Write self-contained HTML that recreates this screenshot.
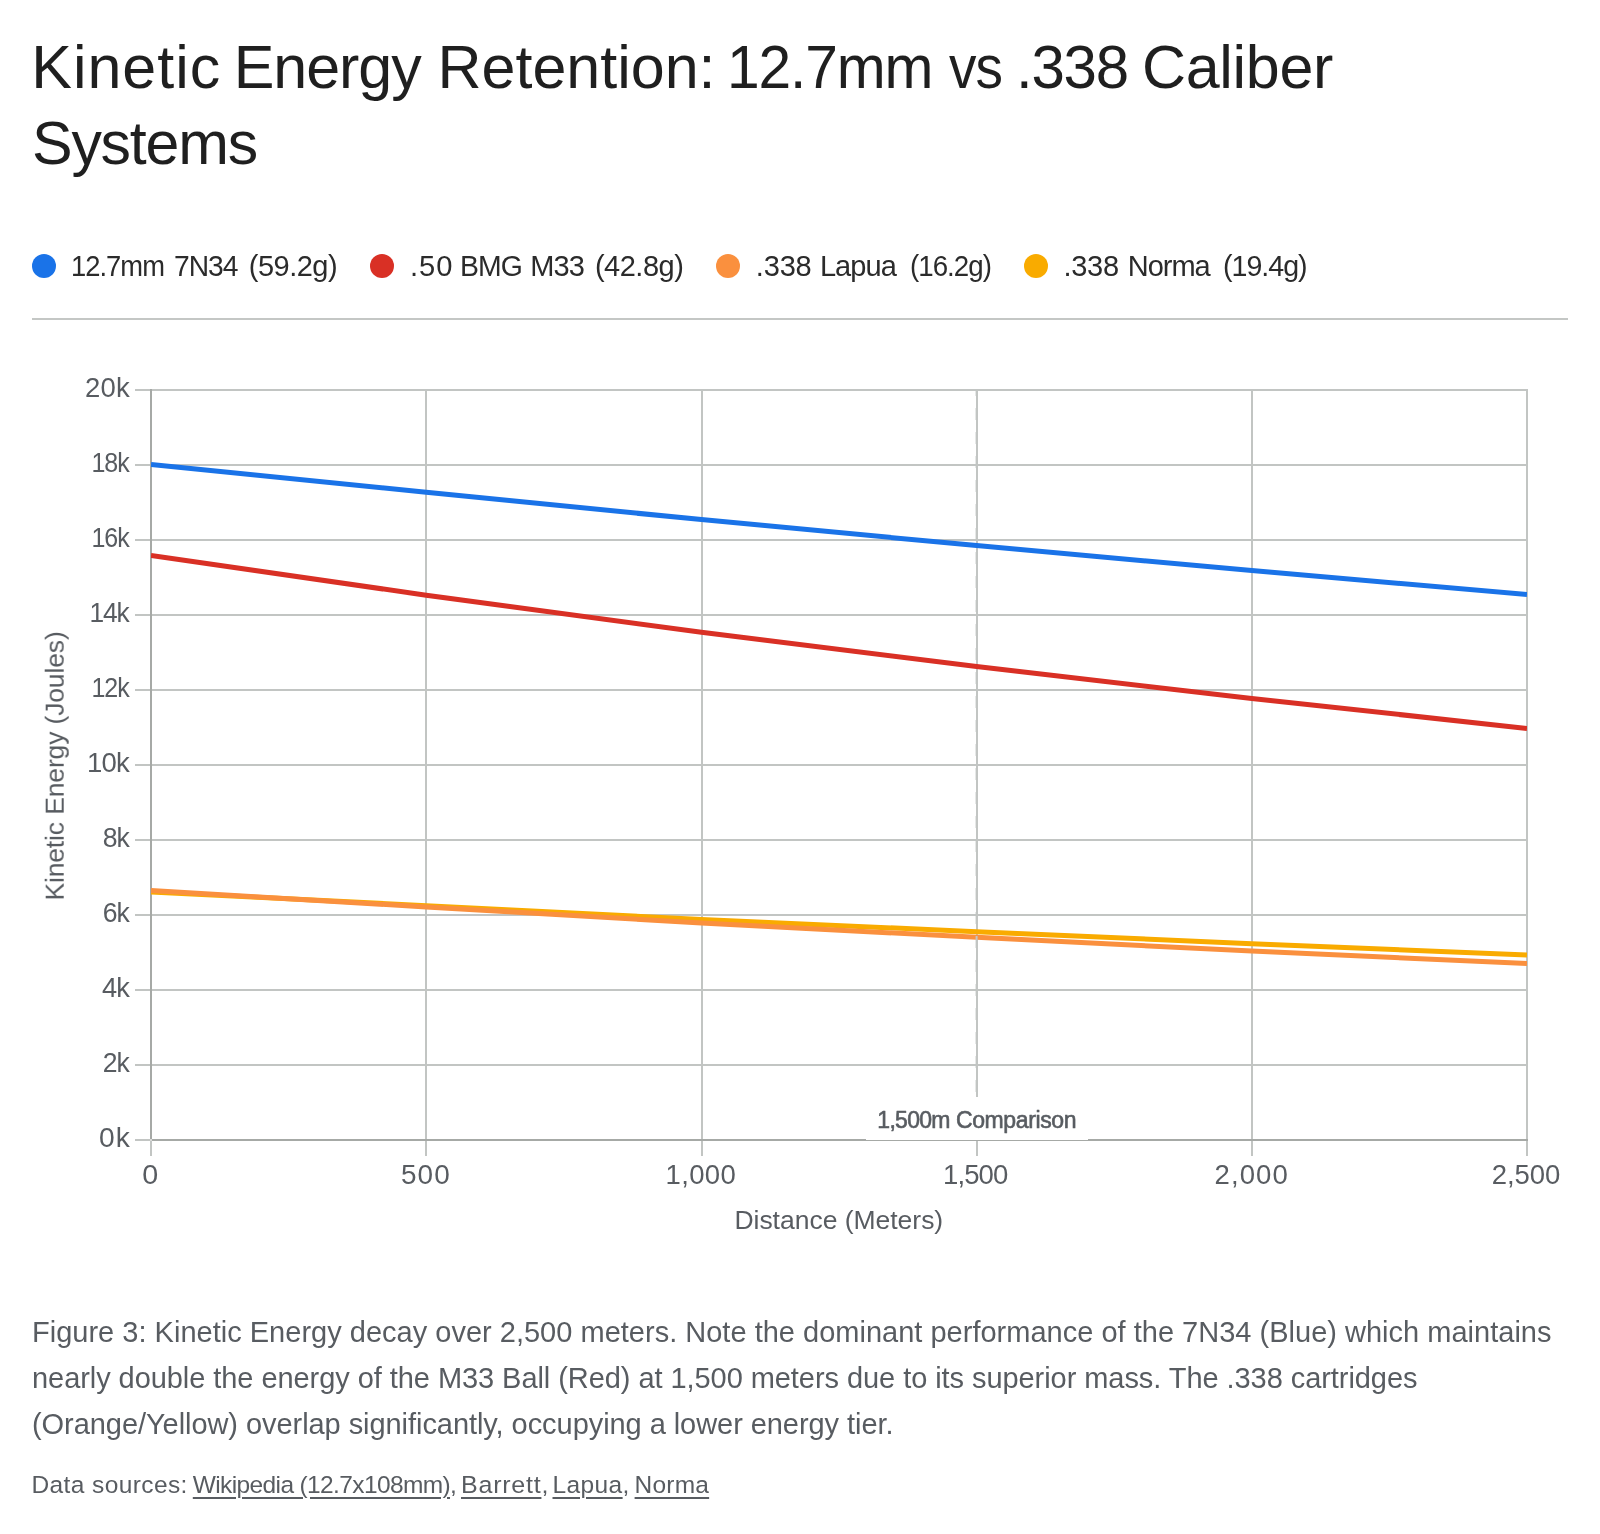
<!DOCTYPE html>
<html lang="en">
<head>
<meta charset="utf-8">
<title>Kinetic Energy Retention: 12.7mm vs .338 Caliber Systems</title>
<style>
  html, body { margin: 0; padding: 0; background: #ffffff; }
  body {
    width: 1600px; height: 1534px; position: relative; overflow: hidden;
    font-family: "Liberation Sans", sans-serif;
    color: #1f1f1f;
    -webkit-font-smoothing: antialiased;
  }
  .abs { position: absolute; white-space: nowrap; will-change: transform; }
  h1.title {
    margin: 0; font-weight: 400; font-size: 61px; line-height: 76px;
    color: #1f1f1f; left: 0; top: 29px; width: 1600px; height: 152px;
  }
  h1.title span { position: absolute; white-space: nowrap; transform-origin: 0 50%; }
  .legend { left: 0; top: 246px; width: 1600px; height: 40px; font-size: 29px; line-height: 40px; color: #2b2b2b; }
  .legend .dot { position: absolute; top: 8px; width: 24px; height: 24px; border-radius: 50%; }
  .legend .lbl { position: absolute; top: 0; white-space: nowrap; }
  .legend .lbl span { position: absolute; top: 0; white-space: nowrap; transform-origin: 0 50%; }
  .rule { left: 32px; top: 318px; width: 1536px; height: 2px; background: #c4c7c5; }
  .caption { left: 32px; top: 1309px; font-size: 29px; line-height: 46px; color: #585c61; margin: 0; }
  .caption span { display: block; }
  .sources { left: 0; top: 1467px; width: 1600px; height: 36px; font-size: 24.5px; line-height: 36px; color: #585c61; margin: 0; }
  .sources span { position: absolute; top: 0; white-space: nowrap; transform-origin: 0 50%; }
  .sources a { color: inherit; text-decoration: underline; text-decoration-thickness: 2px; text-underline-offset: 4px; }
  svg text { font-family: "Liberation Sans", sans-serif; }
</style>
</head>
<body>

<h1 class="abs title"><span style="left:31.25px;top:0px;letter-spacing:0.985px">Kinetic</span> <span style="left:233.75px;top:0px;letter-spacing:-1.065px">Energy</span> <span style="left:437.5px;top:0px;letter-spacing:-0.003px">Retention:</span> <span style="left:726.75px;top:0px;letter-spacing:-1.22px;transform:scaleX(0.963)">12.7mm</span> <span style="left:949.4px;top:0px;letter-spacing:-1.22px;transform:scaleX(0.9008)">vs</span> <span style="left:1015.68px;top:0px;letter-spacing:-1.22px;transform:scaleX(0.983)">.338</span> <span style="left:1142.0px;top:0px;letter-spacing:-0.305px">Caliber</span> <span style="left:32.0px;top:76px;letter-spacing:-1.22px;transform:scaleX(0.998)">Systems</span></h1>

<div class="abs legend"><span class="dot" style="left:32px;background:#1a73e8"></span><span class="lbl"><span style="left:70.87px;letter-spacing:-1.015px;transform:scaleX(0.9422)">12.7mm</span> <span style="left:173.78px;letter-spacing:-1.015px;transform:scaleX(0.9723)">7N34</span> <span style="left:248.75px;letter-spacing:-0.496px">(59.2g)</span></span>
  <span class="dot" style="left:370px;background:#d93025"></span><span class="lbl"><span style="left:409.59px;letter-spacing:1.015px;transform:scaleX(1.0047)">.50</span> <span style="left:460.29px;letter-spacing:-1.015px;transform:scaleX(0.9798)">BMG</span> <span style="left:530.2px;letter-spacing:-0.868px">M33</span> <span style="left:594.9px;letter-spacing:-0.488px">(42.8g)</span></span>
  <span class="dot" style="left:716px;background:#fa903e"></span><span class="lbl"><span style="left:755.75px;letter-spacing:-0.155px">.338</span> <span style="left:819.9px;letter-spacing:-0.903px">Lapua</span> <span style="left:909.95px;letter-spacing:-1.015px;transform:scaleX(0.9544)">(16.2g)</span></span>
  <span class="dot" style="left:1024px;background:#f9ab00"></span><span class="lbl"><span style="left:1063.6px;letter-spacing:-0.338px">.338</span> <span style="left:1127.7px;letter-spacing:-0.996px">Norma</span> <span style="left:1223.01px;letter-spacing:-1.015px;transform:scaleX(0.9863)">(19.4g)</span></span></div>

<div class="abs rule"></div>

<svg class="abs" id="chart" style="left:0;top:340px" width="1600" height="930" viewBox="0 340 1600 930">
  <g shape-rendering="crispEdges">
  <rect x="135" y="1139" width="15" height="2" fill="#c2c5c3"/>
  <rect x="152" y="1139" width="1376" height="2" fill="#a6a9a6"/>
  <rect x="135" y="1064" width="15" height="2" fill="#c2c5c3"/>
  <rect x="152" y="1064" width="1376" height="2" fill="#c2c5c3"/>
  <rect x="135" y="989" width="15" height="2" fill="#c2c5c3"/>
  <rect x="152" y="989" width="1376" height="2" fill="#c2c5c3"/>
  <rect x="135" y="914" width="15" height="2" fill="#c2c5c3"/>
  <rect x="152" y="914" width="1376" height="2" fill="#c2c5c3"/>
  <rect x="135" y="839" width="15" height="2" fill="#c2c5c3"/>
  <rect x="152" y="839" width="1376" height="2" fill="#c2c5c3"/>
  <rect x="135" y="764" width="15" height="2" fill="#c2c5c3"/>
  <rect x="152" y="764" width="1376" height="2" fill="#c2c5c3"/>
  <rect x="135" y="689" width="15" height="2" fill="#c2c5c3"/>
  <rect x="152" y="689" width="1376" height="2" fill="#c2c5c3"/>
  <rect x="135" y="614" width="15" height="2" fill="#c2c5c3"/>
  <rect x="152" y="614" width="1376" height="2" fill="#c2c5c3"/>
  <rect x="135" y="539" width="15" height="2" fill="#c2c5c3"/>
  <rect x="152" y="539" width="1376" height="2" fill="#c2c5c3"/>
  <rect x="135" y="464" width="15" height="2" fill="#c2c5c3"/>
  <rect x="152" y="464" width="1376" height="2" fill="#c2c5c3"/>
  <rect x="135" y="389" width="15" height="2" fill="#c2c5c3"/>
  <rect x="152" y="389" width="1376" height="2" fill="#c2c5c3"/>
  <rect x="150" y="389" width="2" height="750" fill="#a6a9a6"/>
  <rect x="150" y="1141" width="2" height="15" fill="#c2c5c3"/>
  <rect x="425" y="389" width="2" height="750" fill="#c2c5c3"/>
  <rect x="425" y="1141" width="2" height="15" fill="#c2c5c3"/>
  <rect x="701" y="389" width="2" height="750" fill="#c2c5c3"/>
  <rect x="701" y="1141" width="2" height="15" fill="#c2c5c3"/>
  <rect x="976" y="389" width="2" height="750" fill="#c2c5c3"/>
  <rect x="976" y="1141" width="2" height="15" fill="#c2c5c3"/>
  <rect x="1251" y="389" width="2" height="750" fill="#c2c5c3"/>
  <rect x="1251" y="1141" width="2" height="15" fill="#c2c5c3"/>
  <rect x="1526" y="389" width="2" height="750" fill="#c2c5c3"/>
  <rect x="1526" y="1141" width="2" height="15" fill="#c2c5c3"/>
  <rect x="150" y="1139" width="2" height="2" fill="#d9dad9"/>
  </g>
  <defs><clipPath id="area"><rect x="151" y="380" width="1376" height="770"/></clipPath></defs>
  <g clip-path="url(#area)" fill="none" stroke-linejoin="round">
  <polyline points="151.0,892.0 426.2,905.7 701.4,919.4 976.6,931.7 1251.8,943.65 1527.0,954.95" stroke="#f9ab00" stroke-width="5"/>
  <polyline points="151.0,890.5 426.2,907.0 701.4,923.0 976.6,937.3 1251.8,951.05 1527.0,963.55" stroke="#fa903e" stroke-width="5"/>
  <polyline points="151.0,555.55 426.2,595.2 701.4,632.2 976.6,666.6 1251.8,698.45 1527.0,728.45" stroke="#d93025" stroke-width="5"/>
  <polyline points="151.0,464.4 426.2,492.35 701.4,519.6 976.6,545.6 1251.8,570.6 1527.0,594.45" stroke="#1a73e8" stroke-width="5"/>
  </g>
  <line x1="976.6" y1="1140" x2="976.6" y2="390" stroke="#c2c5c3" stroke-width="2" stroke-dasharray="12 12"/>
  <rect x="866" y="1097" width="222" height="43" fill="#ffffff" shape-rendering="crispEdges"/>
  <text transform="translate(877.3 1128.3)" font-size="23" letter-spacing="-0.711" fill="#585c61" stroke="#585c61" stroke-width="0.6" stroke-linejoin="round">1,500m</text>
  <text transform="translate(955.9 1128.3)" font-size="23" letter-spacing="-0.378" fill="#585c61" stroke="#585c61" stroke-width="0.6" stroke-linejoin="round">Comparison</text>
  <text transform="translate(98.88 1147.3) scale(1.024 1)" font-size="27.5" letter-spacing="1.1" fill="#585c61">0k</text>
  <text transform="translate(102.73 1072.3) scale(0.9671 1)" font-size="27.5" letter-spacing="-1.1" fill="#585c61">2k</text>
  <text transform="translate(102.1 997.3) scale(0.9896 1)" font-size="27.5" letter-spacing="-1.1" fill="#585c61">4k</text>
  <text transform="translate(102.73 922.3) scale(0.9671 1)" font-size="27.5" letter-spacing="-1.1" fill="#585c61">6k</text>
  <text transform="translate(102.73 847.3) scale(0.9671 1)" font-size="27.5" letter-spacing="-1.1" fill="#585c61">8k</text>
  <text transform="translate(87.1 772.3)" font-size="27.5" letter-spacing="-0.844" fill="#585c61">10k</text>
  <text transform="translate(91.38 697.3) scale(0.9112 1)" font-size="27.5" letter-spacing="-1.1" fill="#585c61">12k</text>
  <text transform="translate(89.38 622.3) scale(0.9582 1)" font-size="27.5" letter-spacing="-1.1" fill="#585c61">14k</text>
  <text transform="translate(91.38 547.3) scale(0.9112 1)" font-size="27.5" letter-spacing="-1.1" fill="#585c61">16k</text>
  <text transform="translate(91.38 472.3) scale(0.9112 1)" font-size="27.5" letter-spacing="-1.1" fill="#585c61">18k</text>
  <text transform="translate(85.0 397.3)" font-size="27.5" letter-spacing="0.206" fill="#585c61">20k</text>
  <text transform="translate(142.36 1184.3) scale(1.0429 1)" font-size="27.5" letter-spacing="0" fill="#585c61">0</text>
  <text transform="translate(400.98 1184.3) scale(1.0152 1)" font-size="27.5" letter-spacing="1.1" fill="#585c61">500</text>
  <text transform="translate(665.5 1184.3)" font-size="27.5" letter-spacing="0.369" fill="#585c61">1,000</text>
  <text transform="translate(943.0 1184.3)" font-size="27.5" letter-spacing="-0.881" fill="#585c61">1,500</text>
  <text transform="translate(1214.5 1184.3) scale(1.0011 1)" font-size="27.5" letter-spacing="1.1" fill="#585c61">2,000</text>
  <text transform="translate(1491.8 1184.3)" font-size="27.5" letter-spacing="-0.056" fill="#585c61">2,500</text>
  <text id="xtitle" x="838.8" y="1228.5" text-anchor="middle" font-size="26.5" letter-spacing="-0.02" fill="#585c61">Distance (Meters)</text>
  <text id="ytitle" transform="translate(63.7 766) rotate(-90)" text-anchor="middle" font-size="26.5" letter-spacing="-0.143" fill="#585c61">Kinetic Energy (Joules)</text>
</svg>

<p class="abs caption"><span id="c1" style="letter-spacing:0.009px">Figure 3: Kinetic Energy decay over 2,500 meters. Note the dominant performance of the 7N34 (Blue) which maintains</span><span id="c2" style="letter-spacing:-0.063px">nearly double the energy of the M33 Ball (Red) at 1,500 meters due to its superior mass. The .338 cartridges</span><span id="c3" style="letter-spacing:-0.06px">(Orange/Yellow) overlap significantly, occupying a lower energy tier.</span></p>

<p class="abs sources" id="src"><span style="left:31.45px;letter-spacing:0.4px">Data sources:</span> <span style="left:192.8px;letter-spacing:-0.625px"><a>Wikipedia (12.7x108mm)</a>,</span> <span style="left:460.66px;letter-spacing:0.735px;transform:scaleX(1.0224)"><a>Barrett</a>,</span> <span style="left:552.5px;letter-spacing:0.394px"><a>Lapua</a>,</span> <span style="left:634.6px;letter-spacing:0.203px"><a>Norma</a></span></p>

</body>
</html>
